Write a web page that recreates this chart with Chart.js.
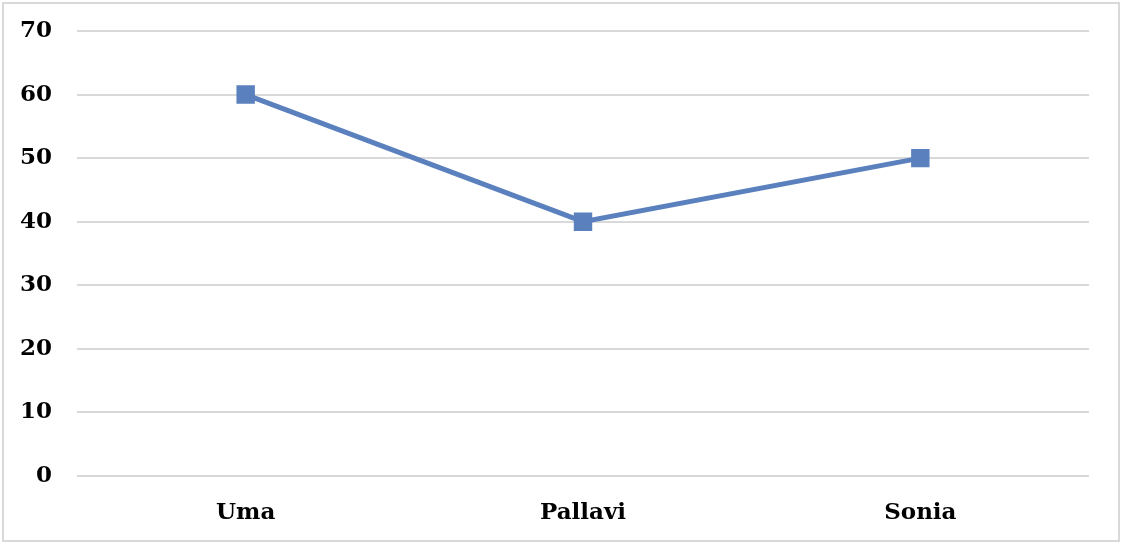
<!DOCTYPE html>
<html>
<head>
<meta charset="utf-8">
<script src="https://cdn.jsdelivr.net/npm/chart.js@4/dist/chart.umd.min.js"></script>
<style>
  html, body { margin: 0; padding: 0; background: #fff; }
  #wrap { position: relative; width: 1122px; height: 546px; }
  #frame { position: absolute; left: 2px; top: 2px; width: 1114px; height: 536px; border: 2px solid #d9d9d9; pointer-events: none; }
</style>
</head>
<body>
<div id="wrap">
  <canvas id="grafico" width="1122" height="546"></canvas>
  <div id="frame"></div>
</div>
<script>
const nomes = ["Uma", "Pallavi", "Sonia"];
const valores = [60, 40, 50];
const eixoY = { min: 0, max: 70, passo: 10 };

const fonte = { family: "'DejaVu Serif', serif", size: 23, weight: "bold" };

new Chart(document.getElementById("grafico"), {
  type: "line",
  data: {
    labels: nomes,
    datasets: [{
      data: valores,
      borderColor: "#5a80bd",
      backgroundColor: "#5a80bd",
      borderWidth: 5,
      pointStyle: "rect",
      pointRadius: 9.5,
      pointHoverRadius: 9.5,
      tension: 0
    }]
  },
  options: {
    responsive: false,
    animation: false,
    layout: { padding: { top: 31, right: 33, left: 0, bottom: 0 } },
    plugins: { legend: { display: false }, tooltip: { enabled: false } },
    scales: {
      x: {
        offset: true,
        grid: { display: false, drawTicks: false },
        border: { display: false },
        ticks: { color: "#000", font: fonte, padding: 23 },
        afterFit: s => { s.height = 70; }
      },
      y: {
        min: eixoY.min, max: eixoY.max,
        ticks: { stepSize: eixoY.passo, color: "#000", font: fonte, padding: 25 },
        grid: { color: "#d9d9d9", lineWidth: 2, drawTicks: false },
        border: { display: false },
        afterFit: s => { s.width = 77; s.paddingTop = 0; s.paddingBottom = 0; }
      }
    }
  }
});
</script>
</body>
</html>
